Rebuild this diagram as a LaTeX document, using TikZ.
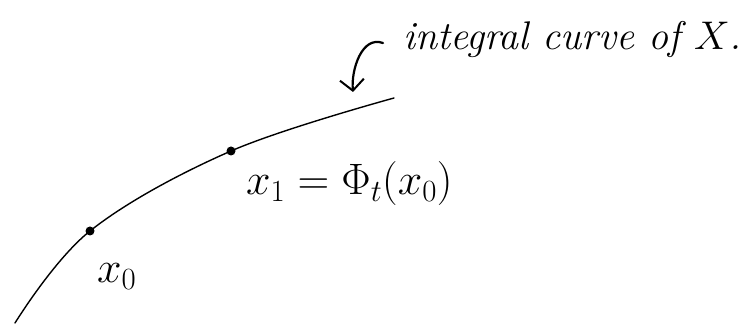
\RequirePackage{fix-cm}
\documentclass[tikz,border=0pt]{standalone}
\usetikzlibrary{arrows.meta}
\begin{document}
\begin{tikzpicture}[x=1pt,y=1pt,
  dotnode/.style={circle,fill=black,inner sep=0pt,minimum size=9pt},
  curveline/.style={line width=1.4pt,line cap=round},
  pointer/.style={line width=2.2pt,line cap=round,-{Straight Barb[length=11pt,width=24pt,line width=2pt]}},
  handlabel/.style={inner sep=0pt,font=\fontsize{40}{44}\selectfont},
  mathlabel/.style={inner sep=0pt,font=\fontsize{44}{48}\selectfont}]
\useasboundingbox (0,0) rectangle (756,324);
\coordinate (s) at (15,1);
\coordinate (e) at (394,226);
\node[dotnode] (p0) at (90,93) {};
\node[dotnode] (p1) at (231,173) {};
\draw[curveline] plot[smooth,tension=0.6] coordinates {(s) (p0.center) (p1.center) (e)};
\node[mathlabel,anchor=base west] (l0) at (97,41) {$x_0$};
\node[mathlabel,anchor=base west] (l1) at (246,129) {$x_1=\Phi_t(x_0)$};
\node[handlabel,anchor=base west] (txt) at (403,274) {\itshape integral curve of $X$.};
\coordinate (a0) at (383,281);
\coordinate (a1) at (353,232);
\draw[pointer] (a0) to[out=160,in=95] (a1);
\end{tikzpicture}
\end{document}
